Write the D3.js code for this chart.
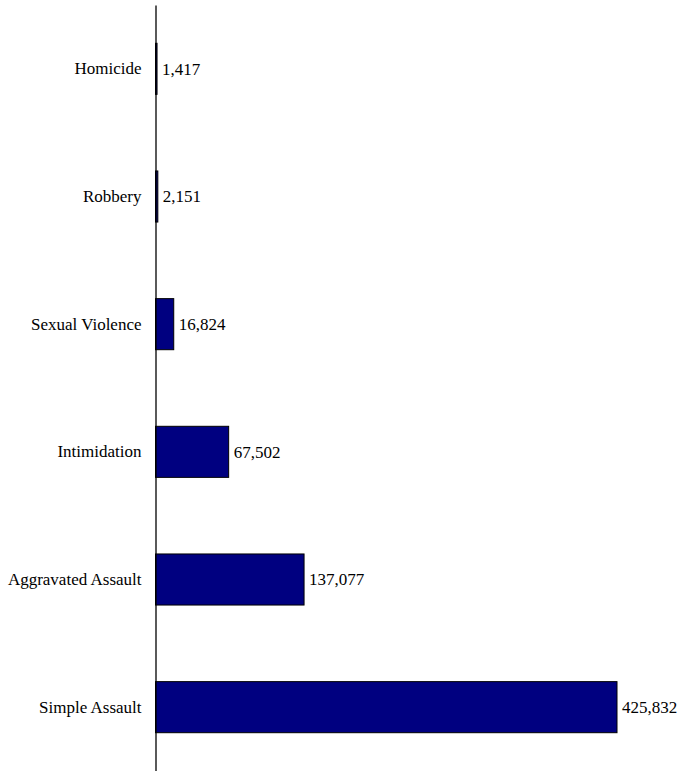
<!DOCTYPE html>
<html>
<head>
<meta charset="utf-8">
<script src="https://cdn.jsdelivr.net/npm/d3@7"></script>
<style>
  body { margin: 0; background: #fff; }
  svg text { font-family: "Liberation Serif", Tinos, "Times New Roman", Times, "DejaVu Serif", serif; font-size: 17px; fill: #000; }
</style>
</head>
<body>
<div id="chart"></div>
<script>
// data
const categories = ["Homicide", "Robbery", "Sexual Violence", "Intimidation", "Aggravated Assault", "Simple Assault"];
const values = [1417, 2151, 16824, 67502, 137077, 425832];

const width = 683, height = 771;
const margin = { top: 5, left: 155.5 };
const serif = "'Liberation Serif', Tinos, 'Times New Roman', Times, 'DejaVu Serif', serif";

const svg = d3.select("#chart")
    .append("svg")
    .attr("width", width)
    .attr("height", height);

const data = categories.map((c, i) => ({ name: c, value: values[i] }));

// x: value -> horizontal length
const x = d3.scaleLinear()
    .domain([0, d3.max(values)])
    .range([margin.left, margin.left + 461.5]);

// y: category bands
const y = d3.scaleBand()
    .domain(categories)
    .range([margin.top, height])
    .paddingInner(0.6)
    .paddingOuter(0.3);

// bars
svg.append("g")
    .selectAll("rect")
    .data(data)
    .join("rect")
    .attr("x", x(0))
    .attr("y", d => y(d.name))
    .attr("width", d => x(d.value) - x(0))
    .attr("height", y.bandwidth())
    .attr("fill", "#000080")
    .attr("stroke", "#000")
    .attr("stroke-width", 1);

// vertical axis, no ticks
const axis = svg.append("g")
    .attr("transform", `translate(${x(0)},0)`)
    .call(d3.axisLeft(y).tickSize(0).tickPadding(14))
    .attr("font-family", serif)
    .attr("font-size", 17);
axis.select(".domain").attr("stroke", "#000").attr("stroke-width", 1.3);
axis.selectAll("text").attr("fill", "#000");

// value labels
svg.append("g")
    .attr("font-family", serif)
    .attr("font-size", 17)
    .selectAll("text")
    .data(data)
    .join("text")
    .attr("x", d => x(d.value) + 5)
    .attr("y", d => y(d.name) + y.bandwidth() / 2)
    .attr("dy", "0.35em")
    .text(d => d3.format(",")(d.value));
</script>
</body>
</html>
